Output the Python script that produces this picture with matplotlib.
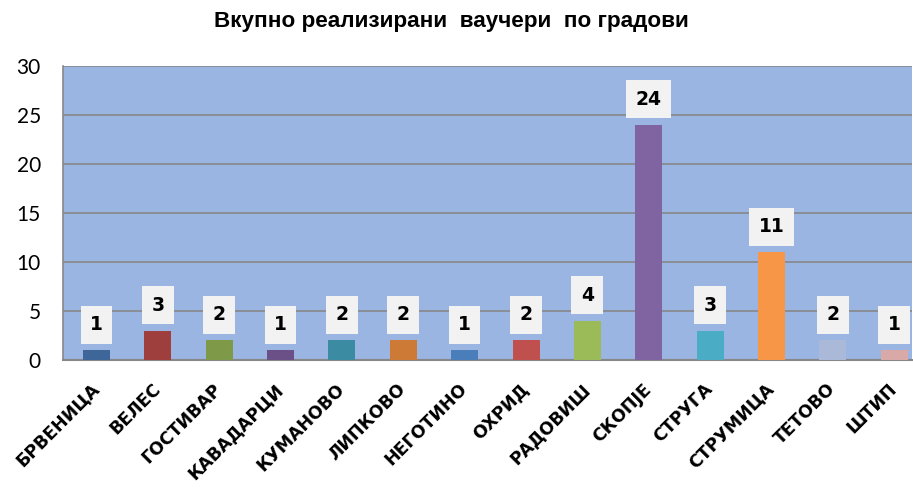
import matplotlib
matplotlib.use("Agg")
import matplotlib.pyplot as plt

title = "Вкупно реализирани  ваучери  по градови"
cities = ["БРВЕНИЦА", "ВЕЛЕС", "ГОСТИВАР", "КАВАДАРЦИ", "КУМАНОВО", "ЛИПКОВО",
          "НЕГОТИНО", "ОХРИД", "РАДОВИШ", "СКОПЈЕ", "СТРУГА", "СТРУМИЦА",
          "ТЕТОВО", "ШТИП"]
vouchers = [1, 3, 2, 1, 2, 2, 1, 2, 4, 24, 3, 11, 2, 1]
colors = ["#3E6698", "#9E3E3D", "#7E9A48", "#6A5086", "#3B8BA3", "#CC7A36",
          "#4A7EBB", "#C0504D", "#9BBB59", "#8064A2", "#4BACC6", "#F79646",
          "#AAB9D7", "#D9A9A8"]
yticks = [0, 5, 10, 15, 20, 25, 30]

fig = plt.figure(figsize=(9.13, 4.88), dpi=100)
ax = fig.add_axes([63/913, 1-360/488, (912-63)/913, (360-66)/488])
ax.set_facecolor("#9AB5E2")

x = list(range(len(cities)))
ax.bar(x, vouchers, width=0.44, color=colors, zorder=3)

for xi, v in zip(x, vouchers):
    ax.annotate(str(v), (xi, v), xytext=(0, 16), textcoords="offset pixels",
                ha="center", va="bottom", fontsize=13.5, fontweight="bold",
                family="DejaVu Sans", color="black", zorder=5,
                bbox=dict(boxstyle="square,pad=0.5", fc="#F2F2F2", ec="none"))

ax.set_xlim(-0.545, 13.29)
ax.set_ylim(0, 30)
ax.set_yticks(yticks)
ax.yaxis.grid(True, color="#878787", linewidth=1.2, zorder=1)
ax.set_axisbelow(True)
for s in ["top", "right"]:
    ax.spines[s].set_visible(False)
ax.spines["left"].set_color("#878787")
ax.spines["bottom"].set_color("#878787")
ax.spines["left"].set_linewidth(1.2)
ax.spines["bottom"].set_linewidth(1.5)

ax.tick_params(axis="y", length=0, pad=16, labelsize=15)
for lab in ax.get_yticklabels():
    lab.set_family("Lato")
ax.set_xticks(x)
ax.set_xticklabels(cities, rotation=45, ha="right", va="center",
                   rotation_mode="anchor", fontsize=12.5, fontweight="bold",
                   family="DejaVu Sans")
ax.tick_params(axis="x", length=0, pad=19)

fig.text(0.494, 1-22/488, title, ha="center", va="center",
         fontsize=16.2, fontweight="bold", family="Liberation Sans")

fig.savefig("out.png", dpi=100)
